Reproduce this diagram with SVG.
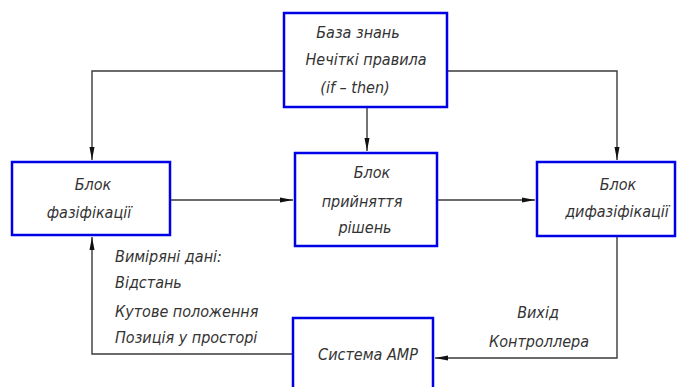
<svg xmlns="http://www.w3.org/2000/svg" width="692" height="387" viewBox="0 0 692 387">
<defs>
<style>
.box{fill:#fff;stroke:#0000e6;stroke-width:2.5}
.ln{fill:none;stroke:#3a3a3a;stroke-width:1.4}
text{font-family:"Liberation Sans Narrow","DejaVu Sans Condensed",sans-serif;font-style:italic;font-size:16px;fill:#333;text-anchor:middle}
.l{text-anchor:start}
</style>
<marker id="ah" markerUnits="userSpaceOnUse" markerWidth="14" markerHeight="8" refX="13" refY="4" orient="auto">
<path d="M0,1.5 L13,4 L0,6.5 Z" fill="#111"/>
</marker>
</defs>
<rect width="692" height="387" fill="#fff"/>
<g id="connectors">
<path class="ln" d="M284,71 H92 V160" marker-end="url(#ah)"/>
<path class="ln" d="M447,71 H617 V160" marker-end="url(#ah)"/>
<path class="ln" d="M367,108 V151" marker-end="url(#ah)"/>
<path class="ln" d="M171,200 H293" marker-end="url(#ah)"/>
<path class="ln" d="M438,200 H535" marker-end="url(#ah)"/>
<path class="ln" d="M617,237 V358 H435" marker-end="url(#ah)"/>
<path class="ln" d="M292,354 H92 V237" marker-end="url(#ah)"/>
</g>
<g id="kb">
<rect class="box" x="284" y="13" width="163" height="94"/>
<text x="358" y="38">База знань</text>
<text x="366" y="65">Нечіткі правила</text>
<text x="355" y="93">(if – then)</text>
</g>
<g id="fuzz">
<rect class="box" x="12" y="162" width="158" height="73"/>
<text x="93" y="190">Блок</text>
<text x="89" y="218">фазіфікації</text>
</g>
<g id="decision">
<rect class="box" x="295" y="153" width="142" height="93"/>
<text x="372" y="178">Блок</text>
<text x="362" y="207">прийняття</text>
<text x="365" y="233">рішень</text>
</g>
<g id="defuzz">
<rect class="box" x="537" y="162" width="138" height="74"/>
<text x="618" y="190">Блок</text>
<text x="617" y="217">дифазіфікації</text>
</g>
<g id="amr">
<rect class="box" x="293" y="318" width="140" height="80"/>
<text x="368" y="360">Система АМР</text>
</g>
<g id="labels">
<text class="l" x="115" y="262">Виміряні дані:</text>
<text class="l" x="115" y="288">Відстань</text>
<text class="l" x="115" y="317">Кутове положення</text>
<text class="l" x="115" y="343">Позиція у просторі</text>
<text x="538" y="318">Вихід</text>
<text x="539" y="347">Контроллера</text>
</g>
</svg>
